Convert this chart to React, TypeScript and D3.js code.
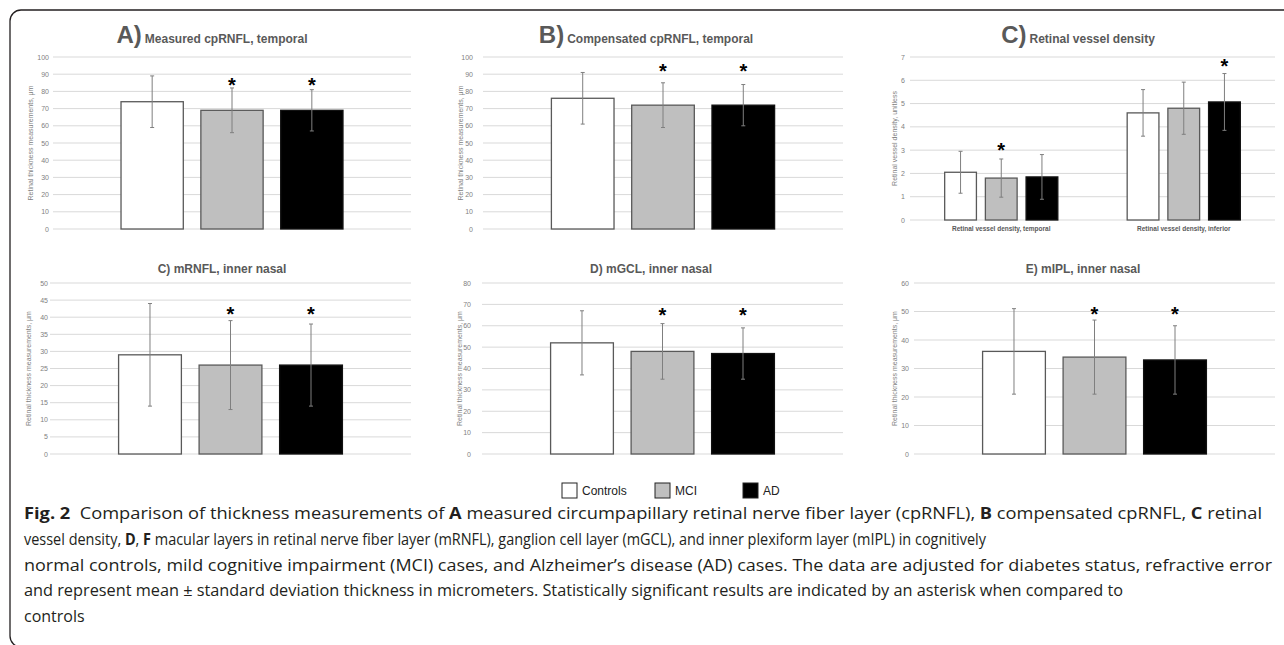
import React from "react";
import * as d3 from "d3";

// ---------- data ----------
const seriesNames = ["Controls", "MCI", "AD"];

const measuredMean = [74, 69, 69];
const measuredSD = [15, 13, 12];
const measuredSig = [false, true, true];
const measuredStar = [86];

const compensatedMean = [76, 72, 72];
const compensatedSD = [15, 13, 12];
const compensatedSig = [false, true, true];
const compensatedStar = [94];

const vesselCategories = ["Retinal vessel density, temporal", "Retinal vessel density, inferior"];
const vesselTemporalMean = [2.05, 1.8, 1.85];
const vesselTemporalSD = [0.9, 0.82, 0.96];
const vesselTemporalSig = [false, true, false];
const vesselInferiorMean = [4.6, 4.8, 5.07];
const vesselInferiorSD = [1.0, 1.12, 1.22];
const vesselInferiorSig = [false, false, true];
const vesselStar = [3.18, 6.78];

const mrnflMean = [29, 26, 26];
const mrnflSD = [15, 13, 12];
const mrnflSig = [false, true, true];
const mrnflStar = [42];

const mgclMean = [52, 48, 47];
const mgclSD = [15, 13, 12];
const mgclSig = [false, true, true];
const mgclStar = [67];

const miplMean = [36, 34, 33];
const miplSD = [15, 13, 12];
const miplSig = [false, true, true];
const miplStar = [50.5];

const yAxisThickness = "Retinal thickness measurements, μm";
const yAxisVessel = "Retinal vessel density, unitless";

const captionLines: (string | { b: string })[][] = [
  [{ b: "Fig. 2" }, "  Comparison of thickness measurements of ", { b: "A" }, " measured circumpapillary retinal nerve fiber layer (cpRNFL), ", { b: "B" }, " compensated cpRNFL, ", { b: "C" }, " retinal"],
  ["vessel density, ", { b: "D" }, ", ", { b: "F" }, " macular layers in retinal nerve fiber layer (mRNFL), ganglion cell layer (mGCL), and inner plexiform layer (mIPL) in cognitively"],
  ["normal controls, mild cognitive impairment (MCI) cases, and Alzheimer’s disease (AD) cases. The data are adjusted for diabetes status, refractive error"],
  ["and represent mean ± standard deviation thickness in micrometers. Statistically significant results are indicated by an asterisk when compared to"],
  ["controls"],
];

// ---------- styles ----------
const fills: Record<string, string> = { Controls: "#ffffff", MCI: "#bfbfbf", AD: "#000000" };
const FONT = "'Liberation Sans', Arial, Helvetica, sans-serif";

type PanelDef = {
  x0: number; x1: number; yTop: number; yBot: number; max: number; step: number;
  cats: string[]; means: number[][]; sds: number[][]; sig: boolean[][]; star: number[];
  tickX: number; axisTitleX: number; axisTitle: string;
  big?: string; title: string; titleX: number; titleY: number; catLabels?: boolean;
};

const panels: PanelDef[] = [
  { x0: 53, x1: 411, yTop: 57, yBot: 229, max: 100, step: 10, cats: ["a"], means: [measuredMean], sds: [measuredSD], sig: [measuredSig], star: measuredStar, tickX: 49, axisTitleX: 33, axisTitle: yAxisThickness, big: "A)", title: "Measured cpRNFL, temporal", titleX: 212, titleY: 43 },
  { x0: 483, x1: 843, yTop: 57, yBot: 229, max: 100, step: 10, cats: ["b"], means: [compensatedMean], sds: [compensatedSD], sig: [compensatedSig], star: compensatedStar, tickX: 473, axisTitleX: 463, axisTitle: yAxisThickness, big: "B)", title: "Compensated cpRNFL, temporal", titleX: 646, titleY: 43 },
  { x0: 910, x1: 1275, yTop: 57, yBot: 220, max: 7, step: 1, cats: vesselCategories, means: [vesselTemporalMean, vesselInferiorMean], sds: [vesselTemporalSD, vesselInferiorSD], sig: [vesselTemporalSig, vesselInferiorSig], star: vesselStar, tickX: 905, axisTitleX: 897, axisTitle: yAxisVessel, big: "C)", title: "Retinal vessel density", titleX: 1078, titleY: 43, catLabels: true },
  { x0: 50, x1: 411, yTop: 283, yBot: 454, max: 50, step: 5, cats: ["c"], means: [mrnflMean], sds: [mrnflSD], sig: [mrnflSig], star: mrnflStar, tickX: 48, axisTitleX: 31, axisTitle: yAxisThickness, title: "C) mRNFL, inner nasal", titleX: 222, titleY: 273 },
  { x0: 482, x1: 843, yTop: 283, yBot: 454, max: 80, step: 10, cats: ["d"], means: [mgclMean], sds: [mgclSD], sig: [mgclSig], star: mgclStar, tickX: 471, axisTitleX: 462, axisTitle: yAxisThickness, title: "D) mGCL, inner nasal", titleX: 651, titleY: 273 },
  { x0: 914, x1: 1275, yTop: 283, yBot: 454, max: 60, step: 10, cats: ["e"], means: [miplMean], sds: [miplSD], sig: [miplSig], star: miplStar, tickX: 909, axisTitleX: 897, axisTitle: yAxisThickness, title: "E) mIPL, inner nasal", titleX: 1083, titleY: 273 },
];

function Panel({ p }: { p: PanelDef }) {
  const y = d3.scaleLinear().domain([0, p.max]).range([p.yBot, p.yTop]);
  const x = d3.scaleBand<string>().domain(p.cats).range([p.x0, p.x1]).paddingInner(0.38).paddingOuter(0.19);
  const xs = d3.scaleBand<string>().domain(seriesNames).range([0, x.bandwidth()]).paddingInner(0.22);
  const ticks = d3.range(0, p.max + p.step / 2, p.step);
  const midY = (p.yTop + p.yBot) / 2;
  return (
    <g>
      {ticks.map((t) => (
        <g key={t}>
          <line x1={p.x0} x2={p.x1} y1={y(t)} y2={y(t)} stroke="#d9d9d9" strokeWidth={1} />
          <text x={p.tickX} y={y(t) + 2.5} fontSize={7} fill="#7f7f7f" textAnchor="end" fontFamily={FONT}>{t}</text>
        </g>
      ))}
      <text transform={`translate(${p.axisTitleX},${midY}) rotate(-90)`} fontSize={7} fill="#7f7f7f" textAnchor="middle" fontFamily={FONT}>{p.axisTitle}</text>
      {p.big ? (
        <text x={p.titleX} y={p.titleY} textAnchor="middle" fill="#595959" fontWeight="bold" fontFamily={FONT}>
          <tspan fontSize={24}>{p.big}</tspan>
          <tspan fontSize={12} dx={3}>{p.title}</tspan>
        </text>
      ) : (
        <text x={p.titleX} y={p.titleY} textAnchor="middle" fill="#595959" fontWeight="bold" fontSize={12} fontFamily={FONT}>{p.title}</text>
      )}
      {p.cats.map((c, ci) => (
        <g key={c}>
          {seriesNames.map((s, si) => {
            const bx = (x(c) as number) + (xs(s) as number);
            const bw = xs.bandwidth();
            const m = p.means[ci][si];
            return (
              <rect key={s} x={bx} y={y(m)} width={bw} height={p.yBot - y(m)} fill={fills[s]} stroke={s === "AD" ? "#111" : "#595959"} strokeWidth={1.3} />
            );
          })}
          {seriesNames.map((s, si) => {
            const cx = (x(c) as number) + (xs(s) as number) + xs.bandwidth() / 2;
            const m = p.means[ci][si];
            const sd = p.sds[ci][si];
            const yt = y(m + sd), yb = y(m - sd);
            return (
              <g key={s + "e"} stroke="#7f7f7f" strokeWidth={1}>
                <line x1={cx} x2={cx} y1={yt} y2={yb} />
                <line x1={cx - 2} x2={cx + 2} y1={yt} y2={yt} />
                <line x1={cx - 2} x2={cx + 2} y1={yb} y2={yb} />
              </g>
            );
          })}
          {seriesNames.map((s, si) => {
            if (!p.sig[ci][si]) return null;
            const cx = (x(c) as number) + (xs(s) as number) + xs.bandwidth() / 2;
            return (
              <text key={s + "s"} x={cx} y={y(p.star[ci]) + 11} fontSize={20} fontWeight="bold" textAnchor="middle" fill="#000" fontFamily={FONT}>*</text>
            );
          })}
          {p.catLabels ? (
            <text x={(x(c) as number) + x.bandwidth() / 2} y={p.yBot + 11} fontSize={6.5} fontWeight="bold" fill="#595959" textAnchor="middle" fontFamily={FONT}>{c}</text>
          ) : null}
        </g>
      ))}
    </g>
  );
}

const legendX = [562, 655, 743];
const captionWidths = [1238, 962, 1248, 1099, 0];

export default function App() {
  return (
    <svg width={1284} height={645} style={{ position: "absolute", left: 0, top: 0, background: "#fff" }} xmlns="http://www.w3.org/2000/svg">
      <rect x={10} y={10} width={1300} height={637} rx={11} ry={11} fill="none" stroke="#231f20" strokeWidth={1.3} />
      {panels.map((p, i) => <Panel key={i} p={p} />)}
      {seriesNames.map((s, i) => (
        <g key={s}>
          <rect x={legendX[i]} y={483} width={15} height={15} fill={fills[s]} stroke="#222" strokeWidth={1} />
          <text x={legendX[i] + 20} y={495} fontSize={12} fill="#222" fontFamily={FONT}>{s}</text>
        </g>
      ))}
      {captionLines.map((line, li) => (
        <text key={li} x={24} y={519 + li * 25.8} fontSize={16} fill="#231f20" fontFamily="'Open Sans', 'Noto Sans', sans-serif"
          {...(captionWidths[li] ? { textLength: captionWidths[li], lengthAdjust: "spacingAndGlyphs" } : {})}
          style={{ whiteSpace: "pre" }}>
          {line.map((seg, si) => typeof seg === "string" ? <tspan key={si}>{seg}</tspan> : <tspan key={si} fontWeight="bold">{seg.b}</tspan>)}
        </text>
      ))}
    </svg>
  );
}
